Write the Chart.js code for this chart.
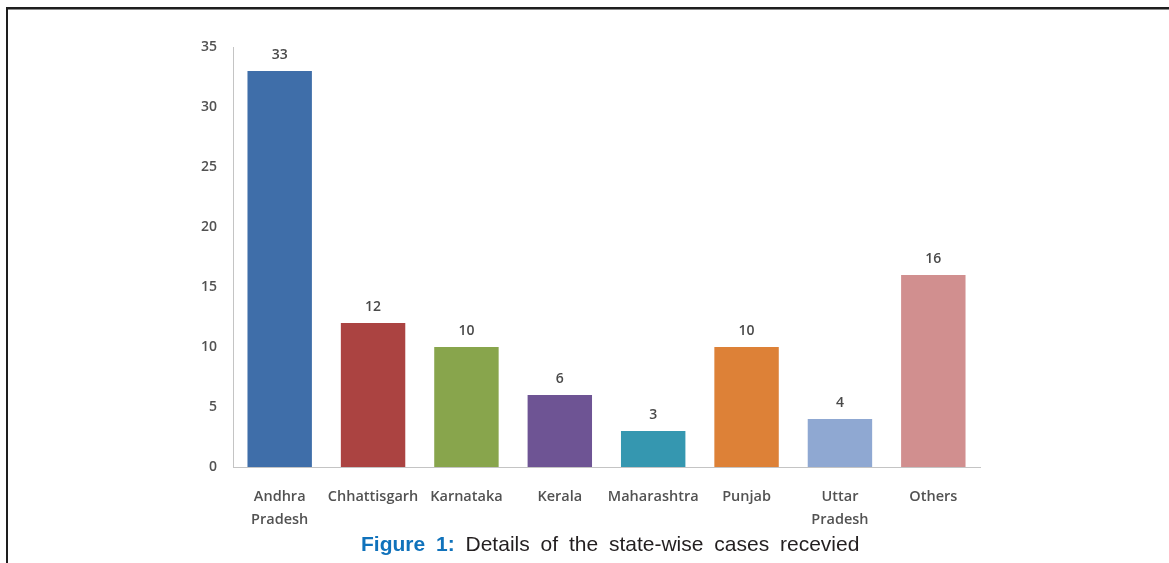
<!DOCTYPE html>
<html>
<head>
<meta charset="utf-8">
<script src="https://cdn.jsdelivr.net/npm/chart.js@4/dist/chart.umd.min.js"></script>
<style>
  html, body { margin: 0; padding: 0; background: #ffffff; }
  #wrap { position: relative; width: 1169px; height: 563px; overflow: hidden; background: #fff; }
  #c { position: absolute; left: 0; top: 0; }
  #bTop { position: absolute; left: 6px; top: 7px; width: 1163px; height: 2px; background: #1e1e1e; }
  #bTop2 { position: absolute; left: 6px; top: 9px; width: 1163px; height: 1px; background: #8a8a8a; }
  #bLeft { position: absolute; left: 6px; top: 7px; width: 2px; height: 556px; background: #1e1e1e; }
  #caption { position: absolute; left: 0; width: 1169px; top: 532px; text-align: left;
    font-family: "Liberation Sans", Arial, sans-serif; font-size: 21px; color: #231f20; white-space: nowrap; word-spacing: 5px; }
  #caption .fig { color: #1072bb; font-weight: bold; }
</style>
</head>
<body>
<div id="wrap">
  <canvas id="c" width="1169" height="563"></canvas>
  <div id="bTop"></div><div id="bTop2"></div><div id="bLeft"></div>
  <div id="caption"><span style="position:absolute;left:361px;"><span class="fig">Figure 1:</span> Details of the state-wise cases recevied</span></div>
</div>
<script>
const categories = [["Andhra", "Pradesh"], "Chhattisgarh", "Karnataka", "Kerala", "Maharashtra", "Punjab", ["Uttar", "Pradesh"], "Others"];
const caseCounts = [33, 12, 10, 6, 3, 10, 4, 16];
const barColors = ["#3f6ea9", "#ab4341", "#88a54c", "#6e5494", "#3597b0", "#dd8137", "#8fa8d2", "#d18f8f"];
const yTicks = [0, 5, 10, 15, 20, 25, 30, 35];

const xFont = { family: "'Open Sans', 'DejaVu Sans', sans-serif", size: 14.5, weight: '600', lineHeight: 1.55 };
const yFont = { family: "'Open Sans', 'DejaVu Sans', sans-serif", size: 14, weight: '600' };

const valueLabels = {
  id: 'valueLabels',
  afterDatasetsDraw(chart) {
    const ctx = chart.ctx;
    const meta = chart.getDatasetMeta(0);
    ctx.save();
    ctx.font = "600 14px 'Open Sans', sans-serif";
    ctx.fillStyle = '#4a4a4a';
    ctx.textAlign = 'center';
    ctx.textBaseline = 'middle';
    meta.data.forEach((bar, i) => {
      ctx.fillText(String(caseCounts[i]), bar.x, bar.y - 16);
    });
    ctx.restore();
  }
};

new Chart(document.getElementById('c'), {
  type: 'bar',
  data: {
    labels: categories,
    datasets: [{
      data: caseCounts,
      backgroundColor: barColors,
      borderWidth: 0,
      categoryPercentage: 1.0,
      barPercentage: 0.69
    }]
  },
  options: {
    responsive: false,
    animation: false,
    devicePixelRatio: 1,
    layout: { padding: { left: 0, top: 47, right: 189, bottom: 0 } },
    plugins: { legend: { display: false }, tooltip: { enabled: false } },
    scales: {
      x: {
        grid: { display: false, drawTicks: false },
        border: { display: true, color: '#c4c4c4', width: 1 },
        ticks: { color: '#525252', font: xFont, padding: 19, maxRotation: 0, autoSkip: false },
        afterFit(scale) { scale.height = 96; }
      },
      y: {
        min: 0, max: 35,
        afterBuildTicks(scale) { scale.ticks = yTicks.map(v => ({ value: v })); },
        grid: { display: false, drawTicks: false },
        border: { display: true, color: '#c4c4c4', width: 1 },
        ticks: { color: '#525252', font: yFont, padding: 16 },
        afterFit(scale) { scale.width = 233; }
      }
    }
  },
  plugins: [valueLabels]
});
</script>
</body>
</html>
